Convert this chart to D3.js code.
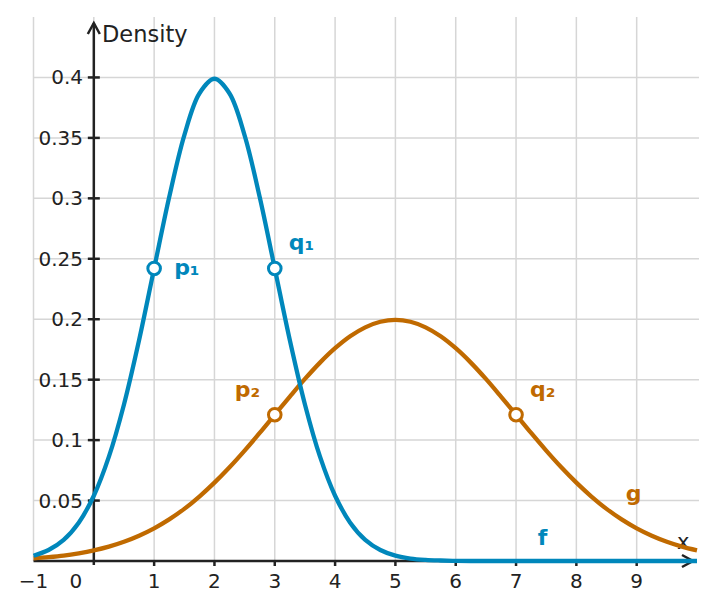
<!DOCTYPE html>
<html>
<head>
<meta charset="utf-8">
<script src="https://cdn.jsdelivr.net/npm/d3@7"></script>
<style>
  body { margin: 0; background: #fff; }
  text { font-family: "DejaVu Sans", sans-serif; fill: #222; }
</style>
</head>
<body>
<svg id="chart" width="716" height="610"></svg>
<script>
const xs = d3.range(-1, 10.001, 0.25);
const fVals = [0.0044, 0.0091, 0.0175, 0.0317, 0.054, 0.0863, 0.1295, 0.1826, 0.242, 0.3011, 0.3521, 0.3867, 0.3989,
  0.3867, 0.3521, 0.3011, 0.242, 0.1826, 0.1295, 0.0863, 0.054, 0.0317, 0.0175, 0.0091, 0.0044, 0.002, 0.0009, 0.0004, 0.0001,
  0, 0, 0, 0, 0, 0, 0, 0, 0, 0, 0, 0, 0, 0, 0, 0];
const gVals = [0.0022, 0.0032, 0.0045, 0.0064, 0.0088, 0.0119, 0.0159, 0.0209, 0.027, 0.0344, 0.0431, 0.0533, 0.0648,
  0.0775, 0.0913, 0.1059, 0.121, 0.136, 0.1506, 0.1641, 0.176, 0.1859, 0.1933, 0.1979, 0.1995,
  0.1979, 0.1933, 0.1859, 0.176, 0.1641, 0.1506, 0.136, 0.121, 0.1059, 0.0913, 0.0775, 0.0648, 0.0533, 0.0431, 0.0344,
  0.027, 0.0209, 0.0159, 0.0119, 0.0088];
const xTicks = [-1, 0, 1, 2, 3, 4, 5, 6, 7, 8, 9];
const yTicks = [0.05, 0.1, 0.15, 0.2, 0.25, 0.3, 0.35, 0.4];
const fPoints = [[1, 0.242, "p₁"], [3, 0.242, "q₁"]];
const gPoints = [[3, 0.121, "p₂"], [7, 0.121, "q₂"]];

const blue = "#0087bb", orange = "#c06a00", grid = "#d6d6d6", ink = "#222";

let svg = d3.select("#chart");
let x = d3.scaleLinear().domain([-1, 10]).range([33.5, 697]);
let y = d3.scaleLinear().domain([0, 0.45]).range([561, 17]);

// grid
svg.append("g").selectAll("line")
  .data(xTicks).enter().append("line")
  .attr("x1", d => x(d)).attr("x2", d => x(d))
  .attr("y1", y(0.45)).attr("y2", y(0))
  .attr("stroke", grid).attr("stroke-width", 1.5);
svg.append("g").selectAll("line")
  .data(yTicks).enter().append("line")
  .attr("x1", x(-1)).attr("x2", 699)
  .attr("y1", d => y(d)).attr("y2", d => y(d))
  .attr("stroke", grid).attr("stroke-width", 1.5);

// axes
let ax = svg.append("g").attr("stroke", ink).attr("stroke-width", 2.5).attr("fill", "none");
ax.append("line").attr("x1", x(-1)).attr("x2", 693).attr("y1", y(0)).attr("y2", y(0));
ax.append("path").attr("d", "M682,555 L693," + y(0) + " L682,567");
ax.append("line").attr("x1", x(0)).attr("x2", x(0)).attr("y1", 565).attr("y2", 23);
ax.append("path").attr("d", "M" + (x(0) - 6) + ",34 L" + x(0) + ",23 L" + (x(0) + 6) + ",34");

// ticks
ax.selectAll(".xt").data(xTicks.filter(d => d > 0)).enter().append("line")
  .attr("x1", d => x(d)).attr("x2", d => x(d))
  .attr("y1", y(0)).attr("y2", y(0) + 5);
ax.selectAll(".yt").data(yTicks).enter().append("line")
  .attr("x1", x(0) - 6).attr("x2", x(0) + 6)
  .attr("y1", d => y(d)).attr("y2", d => y(d));

// tick labels
svg.append("g").selectAll("text")
  .data(xTicks).enter().append("text")
  .attr("x", d => d === 0 ? x(0) - 18 : x(d))
  .attr("y", 588)
  .attr("text-anchor", "middle")
  .style("font-size", "20px")
  .text(d => d < 0 ? "\u2212" + Math.abs(d) : d);
svg.append("g").selectAll("text")
  .data(yTicks).enter().append("text")
  .attr("x", 83)
  .attr("y", d => y(d) + 7)
  .attr("text-anchor", "end")
  .style("font-size", "20px")
  .text(d => d3.format("")(d));

svg.append("text").attr("x", 102).attr("y", 42).style("font-size", "22.5px").text("Density");
svg.append("text").attr("x", 677).attr("y", 549).style("font-size", "21px").text("x");

// curves
let line = d3.line().x(d => x(d[0])).y(d => y(d[1])).curve(d3.curveCatmullRom);
svg.append("path").datum(d3.zip(xs, gVals))
  .attr("d", line).attr("fill", "none").attr("stroke", orange).attr("stroke-width", 4.3);
svg.append("path").datum(d3.zip(xs, fVals))
  .attr("d", line).attr("fill", "none").attr("stroke", blue).attr("stroke-width", 4.3);

// marked points
function draw_points(pts, col, offs) {
  svg.append("g").selectAll("circle")
    .data(pts).enter().append("circle")
    .attr("cx", d => x(d[0])).attr("cy", d => y(d[1])).attr("r", 6.3)
    .attr("fill", "#fff").attr("stroke", col).attr("stroke-width", 3);
  svg.append("g").selectAll("text")
    .data(pts).enter().append("text")
    .attr("x", (d, i) => x(d[0]) + offs[i][0])
    .attr("y", (d, i) => y(d[1]) + offs[i][1])
    .style("font-size", "22px").style("font-weight", "bold")
    .style("fill", col)
    .text(d => d[2]);
}
draw_points(fPoints, blue, [[20, 7], [14, -18]]);
draw_points(gPoints, orange, [[-40, -18], [14, -18]]);

// curve names
svg.append("text").attr("x", x(7.36)).attr("y", y(0.013))
  .style("font-size", "22px").style("font-weight", "bold").style("fill", blue).text("f");
svg.append("text").attr("x", x(8.82)).attr("y", y(0.05))
  .style("font-size", "22px").style("font-weight", "bold").style("fill", orange).text("g");
</script>
</body>
</html>
